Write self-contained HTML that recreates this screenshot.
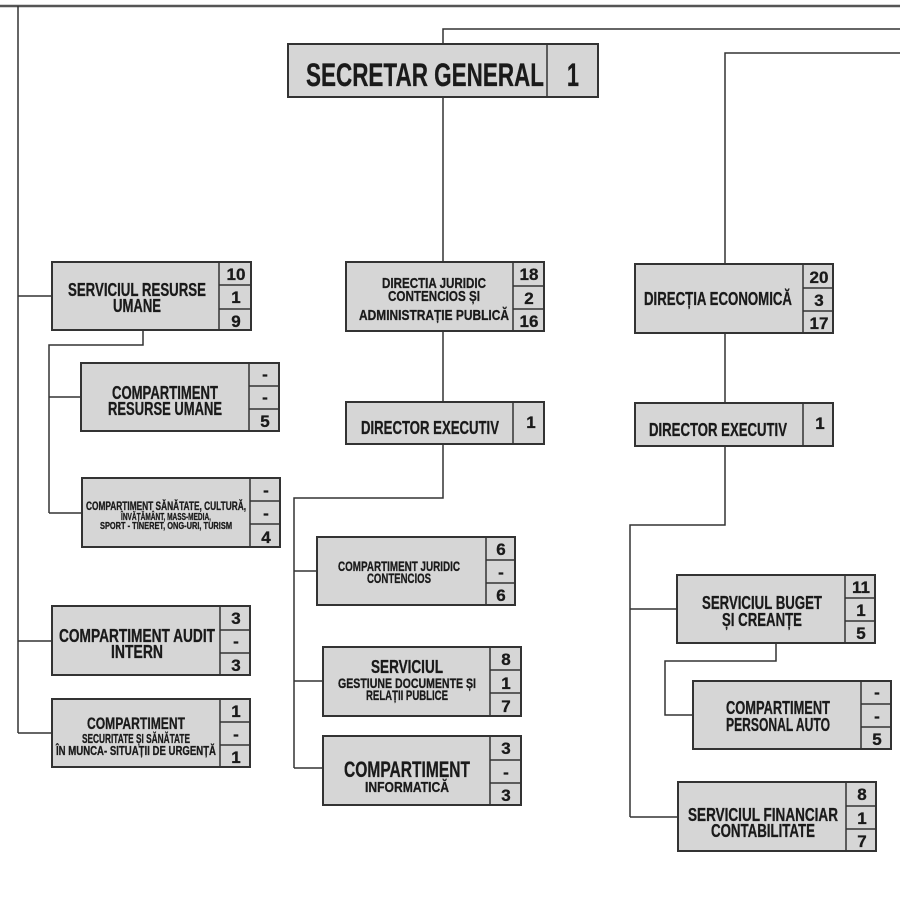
<!DOCTYPE html>
<html><head><meta charset="utf-8"><style>
html,body{margin:0;padding:0;background:#fff}
svg{display:block}
text{font-family:"Liberation Sans Narrow","Liberation Sans",sans-serif;font-weight:bold;fill:#1a1a1a;stroke:#1a1a1a;stroke-width:0.3}
.b{fill:#d6d6d6;stroke:#333;stroke-width:2}
.l{stroke:#333;stroke-width:1.5;fill:none}
</style></head><body>
<svg width="900" height="901" viewBox="0 0 900 901" xmlns="http://www.w3.org/2000/svg">
<rect x="0" y="0" width="900" height="901" fill="#fff"/>
<line x1="0" y1="6" x2="900" y2="6" stroke="#555" stroke-width="2.5"/>
<path class="l" d="M18 6V733M18 296H52M18 641H52M18 733H52"/>
<path class="l" d="M143 330V345H49V513M49 397H81M49 513H82"/>
<path class="l" d="M900 29H443V44M443 97V262M443 331V402M443 444V498H294V768M294 571H317M294 681H323M294 768H323"/>
<path class="l" d="M900 53H725V264M725 333V403M725 446V525H630V817M630 609H677M630 817H678"/>
<path class="l" d="M776 643V661H665V715H693"/>
<g>
<rect class="b" x="288" y="44" width="310" height="53"/><line class="l" x1="547" y1="44" x2="547" y2="97"/>
<text x="425" y="86" font-size="32" text-anchor="middle" textLength="238" lengthAdjust="spacingAndGlyphs">SECRETAR GENERAL</text>
<text x="573" y="86" font-size="32" text-anchor="middle" textLength="12" lengthAdjust="spacingAndGlyphs">1</text>
</g>
<g font-size="17">
<rect class="b" x="52" y="262" width="199" height="68"/><path class="l" d="M219 262V330M219 285H251M219 309H251"/>
<text x="137" y="296" font-size="18" text-anchor="middle" textLength="138" lengthAdjust="spacingAndGlyphs">SERVICIUL RESURSE</text>
<text x="137" y="312" font-size="18" text-anchor="middle" textLength="48" lengthAdjust="spacingAndGlyphs">UMANE</text>
<text x="236" y="280" text-anchor="middle">10</text><text x="236" y="303" text-anchor="middle">1</text><text x="236" y="327" text-anchor="middle">9</text>
<rect class="b" x="81" y="363" width="198" height="68"/><path class="l" d="M249 363V431M249 386H279M249 409H279"/>
<text x="165" y="399" font-size="18" text-anchor="middle" textLength="106" lengthAdjust="spacingAndGlyphs">COMPARTIMENT</text>
<text x="165" y="415" font-size="18" text-anchor="middle" textLength="114" lengthAdjust="spacingAndGlyphs">RESURSE UMANE</text>
<text x="265" y="380" text-anchor="middle">-</text><text x="265" y="403" text-anchor="middle">-</text><text x="265" y="427" text-anchor="middle">5</text>
<rect class="b" x="82" y="478" width="198" height="69"/><path class="l" d="M250 478V547M250 501H280M250 524H280"/>
<text x="166" y="510" font-size="12" text-anchor="middle" textLength="160" lengthAdjust="spacingAndGlyphs">COMPARTIMENT SĂNĂTATE, CULTURĂ,</text>
<text x="166" y="520" font-size="10" text-anchor="middle" textLength="90" lengthAdjust="spacingAndGlyphs">ÎNVĂȚĂMÂNT, MASS-MEDIA,</text>
<text x="166" y="529" font-size="10" text-anchor="middle" textLength="132" lengthAdjust="spacingAndGlyphs">SPORT - TINERET, ONG-URI, TURISM</text>
<text x="266" y="496" text-anchor="middle">-</text><text x="266" y="519" text-anchor="middle">-</text><text x="266" y="543" text-anchor="middle">4</text>
<rect class="b" x="52" y="606" width="198" height="69"/><path class="l" d="M220 606V675M220 630H250M220 653H250"/>
<text x="137" y="642" font-size="18" text-anchor="middle" textLength="156" lengthAdjust="spacingAndGlyphs">COMPARTIMENT  AUDIT</text>
<text x="137" y="658" font-size="18" text-anchor="middle" textLength="52" lengthAdjust="spacingAndGlyphs">INTERN</text>
<text x="236" y="624" text-anchor="middle">3</text><text x="236" y="647" text-anchor="middle">-</text><text x="236" y="671" text-anchor="middle">3</text>
<rect class="b" x="52" y="699" width="198" height="68"/><path class="l" d="M220 699V767M220 722H250M220 745H250"/>
<text x="136" y="729" font-size="17" text-anchor="middle" textLength="98" lengthAdjust="spacingAndGlyphs">COMPARTIMENT</text>
<text x="136" y="743" font-size="13" text-anchor="middle" textLength="108" lengthAdjust="spacingAndGlyphs">SECURITATE ȘI SĂNĂTATE</text>
<text x="136" y="755" font-size="13" text-anchor="middle" textLength="160" lengthAdjust="spacingAndGlyphs">ÎN MUNCA- SITUAȚII DE URGENȚĂ</text>
<text x="236" y="717" text-anchor="middle">1</text><text x="236" y="740" text-anchor="middle">-</text><text x="236" y="763" text-anchor="middle">1</text>
<rect class="b" x="346" y="262" width="198" height="69"/><path class="l" d="M513 262V331M513 286H544M513 309H544"/>
<text x="434" y="288" font-size="15" text-anchor="middle" textLength="104" lengthAdjust="spacingAndGlyphs">DIRECTIA JURIDIC</text>
<text x="434" y="301" font-size="15" text-anchor="middle" textLength="92" lengthAdjust="spacingAndGlyphs">CONTENCIOS ȘI</text>
<text x="434" y="320" font-size="15" text-anchor="middle" textLength="150" lengthAdjust="spacingAndGlyphs">ADMINISTRAȚIE  PUBLICĂ</text>
<text x="529" y="280" text-anchor="middle">18</text><text x="529" y="304" text-anchor="middle">2</text><text x="529" y="327" text-anchor="middle">16</text>
<rect class="b" x="346" y="402" width="198" height="42"/><line class="l" x1="513" y1="402" x2="513" y2="444"/>
<text x="430" y="434" font-size="18" text-anchor="middle" textLength="138" lengthAdjust="spacingAndGlyphs">DIRECTOR EXECUTIV</text>
<text x="531" y="428" text-anchor="middle">1</text>
<rect class="b" x="317" y="537" width="198" height="68"/><path class="l" d="M486 537V605M486 560H515M486 583H515"/>
<text x="399" y="571" font-size="14" text-anchor="middle" textLength="122" lengthAdjust="spacingAndGlyphs">COMPARTIMENT JURIDIC</text>
<text x="399" y="583" font-size="14" text-anchor="middle" textLength="64" lengthAdjust="spacingAndGlyphs">CONTENCIOS</text>
<text x="501" y="555" text-anchor="middle">6</text><text x="501" y="578" text-anchor="middle">-</text><text x="501" y="601" text-anchor="middle">6</text>
<rect class="b" x="323" y="647" width="198" height="69"/><path class="l" d="M490 647V716M490 670H521M490 693H521"/>
<text x="407" y="673" font-size="18" text-anchor="middle" textLength="72" lengthAdjust="spacingAndGlyphs">SERVICIUL</text>
<text x="407" y="688" font-size="14" text-anchor="middle" textLength="138" lengthAdjust="spacingAndGlyphs">GESTIUNE DOCUMENTE ȘI</text>
<text x="407" y="700" font-size="14" text-anchor="middle" textLength="82" lengthAdjust="spacingAndGlyphs">RELAȚII PUBLICE</text>
<text x="506" y="665" text-anchor="middle">8</text><text x="506" y="689" text-anchor="middle">1</text><text x="506" y="712" text-anchor="middle">7</text>
<rect class="b" x="323" y="736" width="198" height="69"/><path class="l" d="M490 736V805M490 760H521M490 783H521"/>
<text x="407" y="777" font-size="22" text-anchor="middle" textLength="126" lengthAdjust="spacingAndGlyphs">COMPARTIMENT</text>
<text x="407" y="792" font-size="15" text-anchor="middle" textLength="84" lengthAdjust="spacingAndGlyphs">INFORMATICĂ</text>
<text x="506" y="754" text-anchor="middle">3</text><text x="506" y="778" text-anchor="middle">-</text><text x="506" y="801" text-anchor="middle">3</text>
<rect class="b" x="635" y="264" width="198" height="69"/><path class="l" d="M803 264V333M803 288H833M803 311H833"/>
<text x="718" y="305" font-size="18" text-anchor="middle" textLength="148" lengthAdjust="spacingAndGlyphs">DIRECȚIA ECONOMICĂ</text>
<text x="819" y="283" text-anchor="middle">20</text><text x="819" y="306" text-anchor="middle">3</text><text x="819" y="329" text-anchor="middle">17</text>
<rect class="b" x="635" y="403" width="198" height="43"/><line class="l" x1="803" y1="403" x2="803" y2="446"/>
<text x="718" y="436" font-size="18" text-anchor="middle" textLength="138" lengthAdjust="spacingAndGlyphs">DIRECTOR EXECUTIV</text>
<text x="820" y="429" text-anchor="middle">1</text>
<rect class="b" x="677" y="575" width="198" height="68"/><path class="l" d="M845 575V643M845 598H875M845 621H875"/>
<text x="762" y="609" font-size="18" text-anchor="middle" textLength="120" lengthAdjust="spacingAndGlyphs">SERVICIUL BUGET</text>
<text x="762" y="626" font-size="18" text-anchor="middle" textLength="80" lengthAdjust="spacingAndGlyphs">ȘI CREANȚE</text>
<text x="861" y="593" text-anchor="middle">11</text><text x="861" y="616" text-anchor="middle">1</text><text x="861" y="639" text-anchor="middle">5</text>
<rect class="b" x="693" y="681" width="198" height="68"/><path class="l" d="M861 681V749M861 704H891M861 727H891"/>
<text x="778" y="714" font-size="18" text-anchor="middle" textLength="104" lengthAdjust="spacingAndGlyphs">COMPARTIMENT</text>
<text x="778" y="731" font-size="18" text-anchor="middle" textLength="104" lengthAdjust="spacingAndGlyphs">PERSONAL AUTO</text>
<text x="877" y="698" text-anchor="middle">-</text><text x="877" y="722" text-anchor="middle">-</text><text x="877" y="745" text-anchor="middle">5</text>
<rect class="b" x="678" y="782" width="198" height="69"/><path class="l" d="M846 782V851M846 806H876M846 829H876"/>
<text x="763" y="821" font-size="18" text-anchor="middle" textLength="150" lengthAdjust="spacingAndGlyphs">SERVICIUL  FINANCIAR</text>
<text x="763" y="837" font-size="18" text-anchor="middle" textLength="104" lengthAdjust="spacingAndGlyphs">CONTABILITATE</text>
<text x="862" y="800" text-anchor="middle">8</text><text x="862" y="824" text-anchor="middle">1</text><text x="862" y="847" text-anchor="middle">7</text>
</g>
</svg>
</body></html>
